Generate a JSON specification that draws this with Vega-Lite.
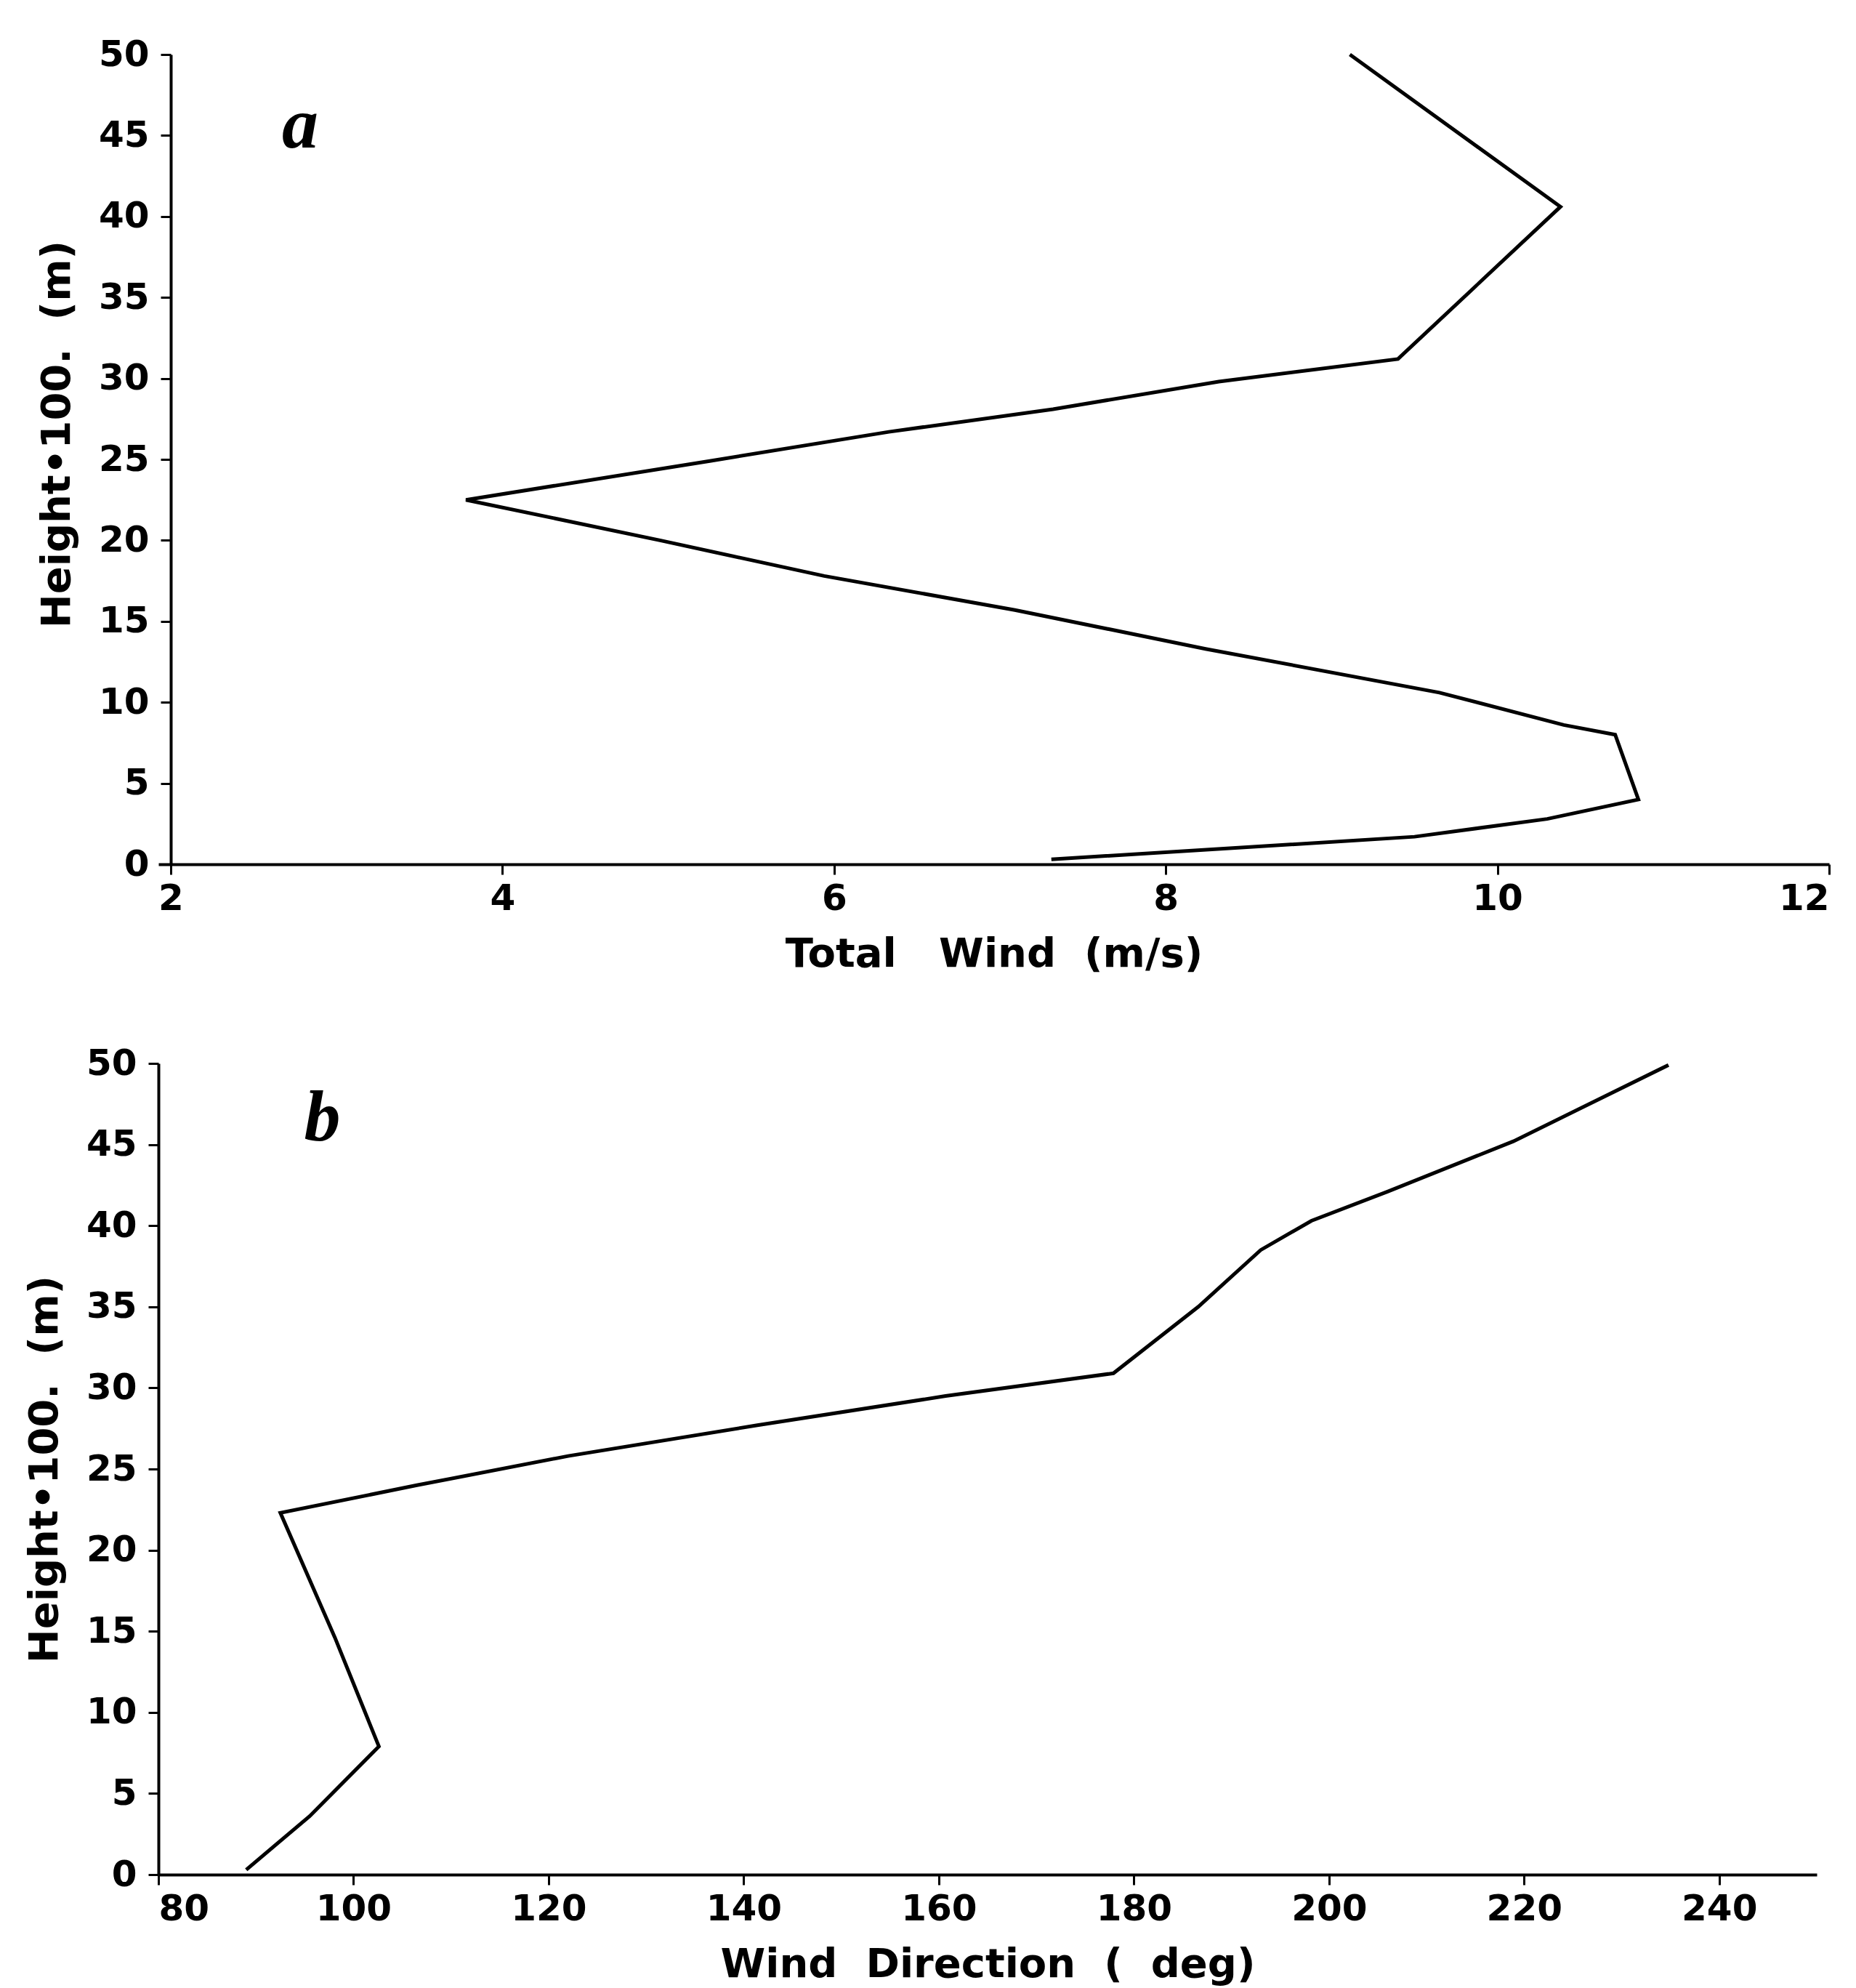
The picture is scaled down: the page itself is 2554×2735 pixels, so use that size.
{
  "$schema": "https://vega.github.io/schema/vega-lite/v6.json",
  "background": "white",
  "padding": {"left": 33, "top": 50, "right": 20, "bottom": 6},
  "spacing": 98,
  "config": {
    "view": {"stroke": null},
    "axis": {
      "grid": false,
      "domainColor": "black", "domainWidth": 4,
      "tickColor": "black", "tickWidth": 3, "tickSize": 14,
      "labelFont": "DejaVu Sans", "labelFontWeight": "bold", "labelFontSize": 50, "labelColor": "black",
      "titleFont": "DejaVu Sans", "titleFontWeight": "bold", "titleFontSize": 56, "titleColor": "black"
    },
    "axisX": {"labelPadding": 8, "titlePadding": 24},
    "axisY": {"labelPadding": 16, "titlePadding": 28}
  },
  "datasets": {
    "speed": [
      {"h": 0.3, "wind": 7.31},
      {"h": 1.7, "wind": 9.5},
      {"h": 2.8, "wind": 10.3},
      {"h": 4.0, "wind": 10.85},
      {"h": 8.0, "wind": 10.71},
      {"h": 8.6, "wind": 10.4},
      {"h": 10.6, "wind": 9.65},
      {"h": 13.3, "wind": 8.24},
      {"h": 15.7, "wind": 7.09},
      {"h": 17.8, "wind": 5.94},
      {"h": 20.0, "wind": 4.95},
      {"h": 22.5, "wind": 3.78},
      {"h": 24.9, "wind": 5.25},
      {"h": 26.7, "wind": 6.33},
      {"h": 28.1, "wind": 7.32},
      {"h": 29.8, "wind": 8.32},
      {"h": 31.2, "wind": 9.4},
      {"h": 40.6, "wind": 10.38},
      {"h": 50.0, "wind": 9.11}
    ],
    "direction": [
      {"h": 0.3, "dir": 89.0},
      {"h": 3.6, "dir": 95.5},
      {"h": 7.9, "dir": 102.6},
      {"h": 14.6, "dir": 98.1},
      {"h": 22.3, "dir": 92.5},
      {"h": 24.0, "dir": 106.5},
      {"h": 25.8, "dir": 122.0},
      {"h": 27.7, "dir": 141.4},
      {"h": 29.5, "dir": 160.7},
      {"h": 30.9, "dir": 177.9},
      {"h": 35.0, "dir": 186.6},
      {"h": 38.5, "dir": 193.0},
      {"h": 40.3, "dir": 198.2},
      {"h": 42.1, "dir": 206.0},
      {"h": 45.2, "dir": 218.9},
      {"h": 49.9, "dir": 234.8}
    ],
    "labelA": [{"x": 2.78, "y": 45.6, "t": "a"}],
    "labelB": [{"x": 96.8, "y": 46.6, "t": "b"}]
  },
  "vconcat": [
    {
      "width": 2299,
      "height": 1114,
      "layer": [
        {
          "data": {"name": "speed"},
          "mark": {"type": "line", "color": "black", "strokeWidth": 5},
          "encoding": {
            "x": {"field": "wind", "type": "quantitative", "scale": {"domain": [1.9255, 12], "nice": false, "zero": false},
                  "axis": {"values": [2, 4, 6, 8, 10, 12], "format": "d", "title": "Total\u00a0\u00a0\u00a0Wind\u00a0\u00a0(m/s)"}},
            "y": {"field": "h", "type": "quantitative", "scale": {"domain": [0, 50], "nice": false},
                  "axis": {"values": [0, 5, 10, 15, 20, 25, 30, 35, 40, 45, 50], "title": "Height•100.\u00a0\u00a0(m)", "offset": -17, "titleY": 522}},
            "order": {"field": "h", "type": "quantitative"}
          }
        },
        {
          "data": {"name": "labelA"},
          "mark": {"type": "text", "font": "Liberation Serif", "fontStyle": "italic", "fontWeight": "bold", "fontSize": 100, "color": "black", "align": "center", "baseline": "middle"},
          "encoding": {
            "x": {"field": "x", "type": "quantitative"},
            "y": {"field": "y", "type": "quantitative"},
            "text": {"field": "t"}
          }
        }
      ]
    },
    {
      "width": 2282,
      "height": 1116,
      "layer": [
        {
          "data": {"name": "direction"},
          "mark": {"type": "line", "color": "black", "strokeWidth": 5},
          "encoding": {
            "x": {"field": "dir", "type": "quantitative", "scale": {"domain": [80, 250], "nice": false, "zero": false},
                  "axis": {"values": [80, 100, 120, 140, 160, 180, 200, 220, 240], "title": "Wind\u00a0\u00a0Direction\u00a0\u00a0(\u00a0\u00a0deg)", "titlePadding": 24}},
            "y": {"field": "h", "type": "quantitative", "scale": {"domain": [0, 50], "nice": false},
                  "axis": {"values": [0, 5, 10, 15, 20, 25, 30, 35, 40, 45, 50], "title": "Height•100.\u00a0\u00a0(m)"}},
            "order": {"field": "h", "type": "quantitative"}
          }
        },
        {
          "data": {"name": "labelB"},
          "mark": {"type": "text", "font": "Liberation Serif", "fontStyle": "italic", "fontWeight": "bold", "fontSize": 100, "color": "black", "align": "center", "baseline": "middle"},
          "encoding": {
            "x": {"field": "x", "type": "quantitative"},
            "y": {"field": "y", "type": "quantitative"},
            "text": {"field": "t"}
          }
        }
      ]
    }
  ]
}
